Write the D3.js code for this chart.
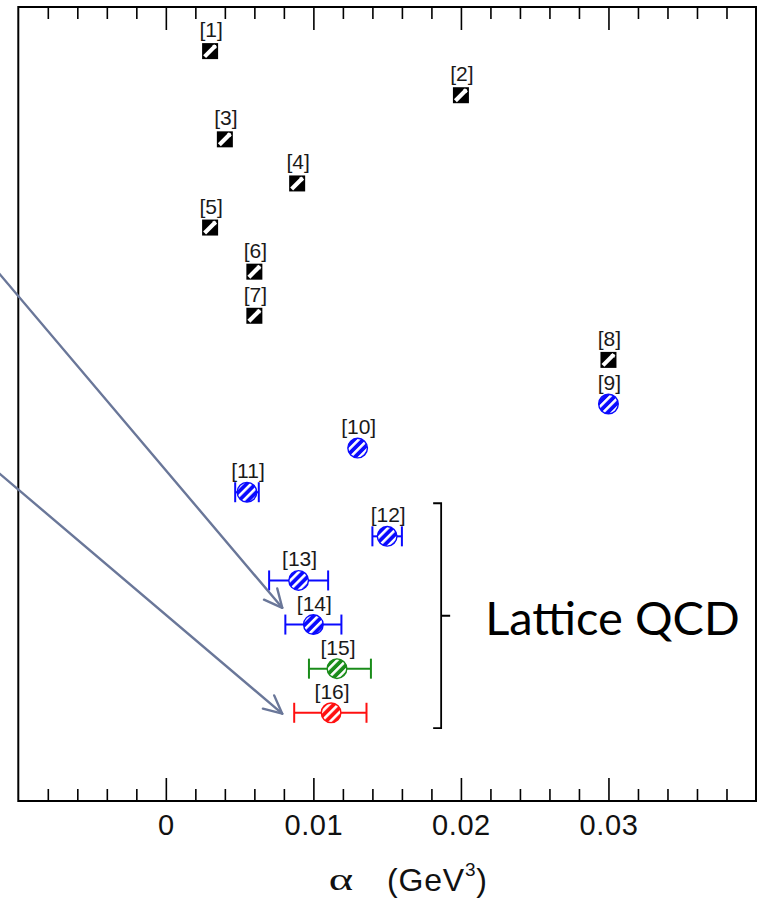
<!DOCTYPE html>
<html>
<head>
<meta charset="utf-8">
<script src="https://cdn.jsdelivr.net/npm/d3@7"></script>
<style>
  html, body { margin: 0; padding: 0; background: #fff; }
  svg { display: block; }
</style>
</head>
<body>
<svg id="chart" width="761" height="901"></svg>
<script>
// ---------------- DATA ----------------
const refLabels = ["[1]","[2]","[3]","[4]","[5]","[6]","[7]","[8]","[9]","[10]","[11]","[12]","[13]","[14]","[15]","[16]"];
const alphaValues = [0.0030, 0.0200, 0.0040, 0.0089, 0.0030, 0.0060, 0.0060, 0.0300, 0.0300, 0.0130, 0.0055, 0.0150, 0.0090, 0.0100, 0.0116, 0.0112];
const errMinus = [null, null, null, null, null, null, null, null, null, null, 0.0008, 0.0010, 0.0020, 0.0019, 0.0019, 0.0025];
const errPlus  = [null, null, null, null, null, null, null, null, null, null, 0.0008, 0.0010, 0.0020, 0.0019, 0.0023, 0.0024];
const markerKind = ["square","square","square","square","square","square","square","square","circle","circle","circle","circle","circle","circle","circle","circle"];
const markerGroup = ["model","model","model","model","model","model","model","model","blue","blue","blue","blue","blue","blue","green","red"];
const majorTicks = [0, 0.01, 0.02, 0.03];
const majorTickLabels = ["0", "0.01", "0.02", "0.03"];
const minorTicks = [-0.008,-0.006,-0.004,-0.002,0.002,0.004,0.006,0.008,0.012,0.014,0.016,0.018,0.022,0.024,0.026,0.028,0.032,0.034,0.036,0.038];
const bracketRange = [11.25, 16.35];   // row-index span covered by the "Lattice QCD" bracket
const bracketAlpha = 0.01866;
const bracketText = "Lattice QCD";
// arrows: [startAlpha, startRow, endAlpha, endRow]
const arrows = [
  [-0.0113, 6.04, 0.00789, 13.62],
  [-0.0113, 10.57, 0.00789, 16.02]
];

// ---------------- STYLE ----------------
const colors = { model: "#000000", blue: "#0a0aff", green: "#1a8c1a", red: "#ff1010" };
const plotLeft = 18.3, plotRight = 756, plotTop = 7, plotBottom = 801;

const svg = d3.select("#chart");
const x = d3.scaleLinear().domain([-0.01, 0.04]).range([plotLeft, plotRight]);
const y = d3.scaleLinear().domain([0, 18]).range([plotTop, plotBottom]);

// patterns
const defs = svg.append("defs");
["blue","green","red"].forEach(k => {
  const p = defs.append("pattern")
    .attr("id", "hatch-" + k)
    .attr("patternUnits", "userSpaceOnUse")
    .attr("width", 6.4).attr("height", 6.4)
    .attr("patternTransform", "rotate(45)");
  p.append("rect").attr("width", 6.4).attr("height", 6.4).attr("fill", colors[k]);
  p.append("rect").attr("x", 0).attr("width", 2.6).attr("height", 6.4).attr("fill", "#fff");
});

// ---------------- AXES ----------------
const axisFont = "'Liberation Sans', Arial, Helvetica, sans-serif";

function styleAxis(g) {
  g.select(".domain").remove();
  g.selectAll(".tick line").attr("stroke", "#000").attr("stroke-width", 1.6);
}

svg.append("g").attr("transform", `translate(0,${plotBottom})`)
  .call(d3.axisBottom(x).tickValues(minorTicks).tickSize(-12).tickFormat(""))
  .call(styleAxis);
svg.append("g").attr("transform", `translate(0,${plotBottom})`)
  .call(d3.axisBottom(x).tickValues(majorTicks).tickSize(-23).tickPadding(13)
    .tickFormat((d, i) => majorTickLabels[i]))
  .call(styleAxis)
  .call(g => g.selectAll("text")
    .attr("font-family", axisFont).attr("font-size", 29).attr("letter-spacing", 0.6).attr("fill", "#111"));
svg.append("g").attr("transform", `translate(0,${plotTop})`)
  .call(d3.axisTop(x).tickValues(minorTicks).tickSize(-12).tickFormat(""))
  .call(styleAxis);
svg.append("g").attr("transform", `translate(0,${plotTop})`)
  .call(d3.axisTop(x).tickValues(majorTicks).tickSize(-23).tickFormat(""))
  .call(styleAxis);

// frame
svg.append("rect")
  .attr("x", plotLeft).attr("y", plotTop)
  .attr("width", plotRight - plotLeft).attr("height", plotBottom - plotTop)
  .attr("fill", "none").attr("stroke", "#000").attr("stroke-width", 2);

// axis title
svg.append("text")
  .attr("transform", "translate(341,890) scale(1.45,1)")
  .attr("text-anchor", "middle")
  .attr("font-family", "'Liberation Serif', 'DejaVu Serif', serif").attr("font-size", 32).attr("fill", "#111")
  .text("α");
const title = svg.append("text")
  .attr("x", 387).attr("y", 891)
  .attr("font-family", axisFont).attr("font-size", 32).attr("letter-spacing", 0.8).attr("fill", "#111");
title.append("tspan").text("(GeV");
title.append("tspan").attr("font-size", 19).attr("dy", -15).text("3");
title.append("tspan").attr("dy", 15).text(")");

// ---------------- DATA MARKS ----------------
const rows = alphaValues.map((a, i) => ({
  label: refLabels[i], a, row: i + 1,
  lo: errMinus[i], hi: errPlus[i],
  kind: markerKind[i], group: markerGroup[i]
}));

const eb = svg.append("g").selectAll("g").data(rows.filter(d => d.lo !== null)).join("g")
  .attr("stroke", d => colors[d.group]).attr("stroke-width", 2).attr("fill", "none");
eb.append("line")
  .attr("x1", d => x(d.a - d.lo)).attr("x2", d => x(d.a + d.hi))
  .attr("y1", d => y(d.row)).attr("y2", d => y(d.row));
eb.append("line")
  .attr("x1", d => x(d.a - d.lo)).attr("x2", d => x(d.a - d.lo))
  .attr("y1", d => y(d.row) - 10).attr("y2", d => y(d.row) + 10);
eb.append("line")
  .attr("x1", d => x(d.a + d.hi)).attr("x2", d => x(d.a + d.hi))
  .attr("y1", d => y(d.row) - 10).attr("y2", d => y(d.row) + 10);

svg.append("g").selectAll("circle").data(rows.filter(d => d.kind === "circle")).join("circle")
  .attr("cx", d => x(d.a)).attr("cy", d => y(d.row)).attr("r", 9.8)
  .attr("fill", d => `url(#hatch-${d.group})`)
  .attr("stroke", d => colors[d.group]).attr("stroke-width", 1.4);

const sq = svg.append("g").selectAll("g").data(rows.filter(d => d.kind === "square")).join("g");
sq.append("rect")
  .attr("x", d => x(d.a) - 8).attr("y", d => y(d.row) - 8)
  .attr("width", 16).attr("height", 16).attr("fill", "#000");
sq.append("line")
  .attr("x1", d => x(d.a) - 5.5).attr("y1", d => y(d.row) + 5.5)
  .attr("x2", d => x(d.a) + 5.5).attr("y2", d => y(d.row) - 5.5)
  .attr("stroke", "#fff").attr("stroke-width", 4.2).attr("stroke-linecap", "butt");
sq.append("path")
  .attr("d", d => `M${x(d.a) + 2},${y(d.row) - 6} L${x(d.a) + 6},${y(d.row) - 6} L${x(d.a) + 6},${y(d.row) - 2} Z`)
  .attr("fill", "#fff");

svg.append("g").selectAll("text").data(rows).join("text")
  .attr("x", d => x(d.a) + 1).attr("y", d => y(d.row) - 14)
  .attr("text-anchor", "middle")
  .attr("font-family", axisFont).attr("font-size", 21).attr("fill", "#1a1a1a")
  .text(d => d.label);

// ---------------- ANNOTATIONS ----------------
const bx = x(bracketAlpha), by0 = y(bracketRange[0]), by1 = y(bracketRange[1]);
const bm = (by0 + by1) / 2;
svg.append("path")
  .attr("d", `M${bx - 8},${by0} L${bx},${by0} L${bx},${by1} L${bx - 8},${by1} M${bx},${bm} L${bx + 9},${bm}`)
  .attr("fill", "none").attr("stroke", "#000").attr("stroke-width", 1.8);
svg.append("text")
  .attr("x", bx + 44).attr("y", bm + 19)
  .attr("font-family", "Lato, 'Open Sans', sans-serif").attr("font-size", 47).attr("fill", "#000")
  .text(bracketText);

const arrowColor = "#6a7799";
arrows.forEach(([a0, r0, a1, r1]) => {
  const x0 = x(a0), y0 = y(r0), x1 = x(a1), y1 = y(r1);
  const ang = Math.atan2(y1 - y0, x1 - x0);
  const L = 20, spread = 0.45;
  const g = svg.append("g").attr("stroke", arrowColor).attr("stroke-width", 2.4).attr("fill", "none")
    .attr("stroke-linecap", "round").attr("stroke-linejoin", "round");
  g.append("line").attr("x1", x0).attr("y1", y0).attr("x2", x1).attr("y2", y1);
  g.append("path").attr("d",
    `M${x1 - L * Math.cos(ang - spread)},${y1 - L * Math.sin(ang - spread)} L${x1},${y1} L${x1 - L * Math.cos(ang + spread)},${y1 - L * Math.sin(ang + spread)}`);
});
</script>
</body>
</html>
